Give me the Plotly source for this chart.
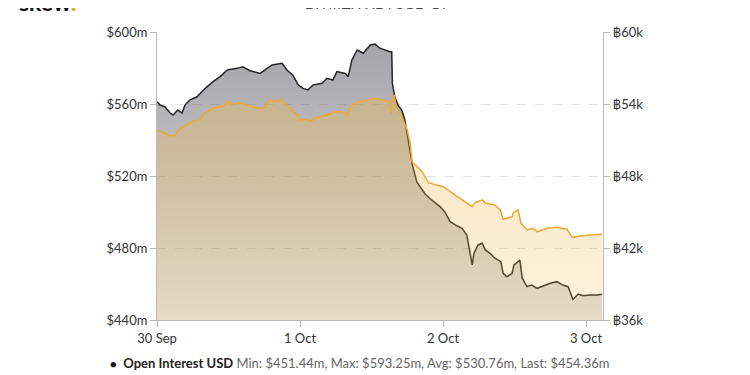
import pandas as pd
import plotly.graph_objects as go

# ---- data ----
# hours after 30 Sep 2020 00:00
oi_usd_hours = [0, 0.5, 1.3, 2.2, 2.7, 3.5, 4.2, 4.7, 5.5, 6.7, 8.1, 9.4, 10.6, 11.8, 13.4, 14.4,
                15.6, 17.3, 19.3, 21.0, 21.8, 22.8, 23.7, 24.5, 25.3, 26.2, 27.7, 28.5, 29.5, 30.2,
                31.6, 32.1, 32.7, 33.6, 34.6, 35.8, 36.6, 37.4, 39.1, 39.4, 39.5, 39.9, 40.5, 41.1,
                41.6, 42.1, 42.8, 43.6, 44.2, 45.0, 45.8, 47.5, 48.3, 49.2, 50.4, 51.2, 52.0, 52.4,
                52.9, 53.2, 53.9, 54.6, 55.1, 55.9, 56.7, 57.7, 58.1, 58.7, 59.6, 59.9, 60.6, 60.9,
                61.3, 62.1, 62.9, 63.8, 64.8, 66.0, 67.1, 68.1, 69.0, 69.8, 70.7, 71.5, 72.7, 73.9, 74.7]
oi_usd_values = [561.3, 559.4, 558.5, 555.0, 553.9, 556.7, 555.0, 559.4, 562.2, 564.0, 568.7, 572.4,
                 575.2, 578.9, 579.8, 580.7, 578.5, 577.0, 581.7, 582.6, 578.9, 576.0, 570.6, 568.7,
                 567.8, 570.6, 571.5, 574.3, 573.3, 578.0, 577.0, 575.2, 584.4, 590.0, 588.2, 592.8,
                 593.25, 591.0, 589.0, 589.0, 571.6, 564.0, 559.0, 556.5, 551.0, 540.0, 527.0, 516.7,
                 514.0, 510.0, 507.5, 503.0, 500.0, 494.6, 492.2, 490.9, 487.2, 480.7, 470.6, 477.2,
                 481.7, 482.6, 478.9, 477.0, 474.3, 472.4, 465.9, 464.0, 465.9, 470.6, 472.4, 473.3,
                 463.2, 458.5, 459.4, 457.6, 458.9, 460.4, 461.3, 459.4, 458.5, 451.44, 454.4, 453.5,
                 453.9, 453.9, 454.36]

oi_btc_hours = [0, 0.8, 2.2, 3.0, 3.9, 5.0, 5.9, 7.2, 8.1, 9.4, 11.1, 11.8, 12.6, 13.9, 15.1, 16.1,
                17.3, 18.1, 19.0, 19.8, 20.6, 21.5, 22.3, 23.5, 24.0, 25.2, 25.7, 27.0, 28.5, 29.9,
                31.1, 31.9, 32.7, 33.7, 35.2, 36.3, 37.8, 38.8, 39.3, 39.4, 39.8, 40.1, 41.1, 42.0,
                42.5, 42.8, 43.6, 44.5, 45.5, 47.0, 48.0, 49.2, 50.9, 52.2, 52.9, 53.4, 54.6, 55.1,
                56.7, 57.6, 58.1, 59.6, 59.8, 60.6, 61.1, 62.1, 63.1, 63.8, 65.5, 67.1, 68.8, 69.7,
                71.0, 72.7, 74.7]
oi_btc_values = [51.78, 51.7, 51.33, 51.42, 51.97, 52.25, 52.53, 52.72, 53.28, 53.64, 53.83, 54.19,
                 54.0, 54.11, 53.92, 53.72, 53.58, 53.78, 54.33, 54.19, 54.39, 54.06, 53.64, 53.08,
                 52.67, 52.72, 52.53, 52.89, 53.08, 53.36, 53.36, 53.08, 53.92, 54.19, 54.33, 54.47,
                 54.33, 54.19, 53.22, 54.19, 54.75, 53.92, 52.94, 51.83, 50.72, 49.19, 48.78, 48.36,
                 47.44, 47.25, 47.11, 46.69, 46.14, 45.72, 45.44, 45.78, 46.0, 45.72, 45.58, 45.17,
                 44.39, 44.61, 44.94, 45.17, 44.06, 43.5, 43.64, 43.36, 43.64, 43.72, 43.56, 42.89,
                 43.0, 43.08, 43.14]

usd_ticks = [440, 480, 520, 560, 600]
usd_tick_labels = ["$440m", "$480m", "$520m", "$560m", "$600m"]
btc_ticks = [36, 42, 48, 54, 60]
btc_tick_labels = ["฿36k", "฿42k", "฿48k", "฿54k", "฿60k"]
legend_usd = "<b>Open Interest USD</b> <span style='color:#666666'>Min: $451.44m, Max: $593.25m, Avg: $530.76m, Last: $454.36m</span>"
legend_btc = "<b>Open Interest BTC</b> <span style='color:#666666'>Min: ฿42.89k, Max: ฿54.75k, Avg: ฿49.81k, Last: ฿43.14k</span>"
chart_title = "BITMEX XBTUSD OI"

start = pd.Timestamp("2020-09-30 00:00")
x_usd = [start + pd.Timedelta(hours=h) for h in oi_usd_hours]
x_btc = [start + pd.Timedelta(hours=h) for h in oi_btc_hours]
x_end = start + pd.Timedelta(hours=74.85)

FONT = "Lato, 'Open Sans', sans-serif"
AX = "#b8b8b8"

fig = go.Figure()
fig.add_trace(go.Scatter(
    x=x_usd, y=oi_usd_values, mode="lines", name="Open Interest USD",
    line=dict(color="#262626", width=1.5),
    fill="tozeroy",
    fillgradient=dict(type="vertical", start=440, stop=600,
                      colorscale=[[0, "rgba(100,100,108,0.18)"], [1, "rgba(100,100,108,0.60)"]]),
    showlegend=False,
))
fig.add_trace(go.Scatter(
    x=x_btc, y=oi_btc_values, mode="lines", name="Open Interest BTC", yaxis="y2",
    line=dict(color="#f0a830", width=1.5),
    fill="tozeroy",
    fillgradient=dict(type="vertical", start=36, stop=60,
                      colorscale=[[0, "rgba(240,183,73,0.19)"], [1, "rgba(240,183,73,0.40)"]]),
    showlegend=False,
))

# the page is shown with an 8px body margin, so margins are shifted accordingly
fig.update_layout(
    width=750, height=375,
    margin=dict(l=149, r=155, t=24, b=63),
    paper_bgcolor="white", plot_bgcolor="white",
    font=dict(family=FONT, size=13, color="#333333"),
    showlegend=False,
    xaxis=dict(
        range=[start, x_end], type="date",
        tickformat="%-d %b", dtick=86400000, tick0=start,
        showgrid=False, showline=True, linecolor=AX, linewidth=1,
        ticks="outside", ticklen=6, tickcolor=AX,
        tickfont=dict(size=13, color="#333333"),
        zeroline=False,
    ),
    yaxis=dict(
        range=[440, 600], tickmode="array", tickvals=usd_ticks, ticktext=usd_tick_labels,
        showgrid=True, gridcolor="#e3e3e3", griddash="dash", gridwidth=1,
        showline=True, linecolor=AX, linewidth=1,
        ticks="outside", ticklen=6, tickcolor=AX,
        zeroline=False, tickfont=dict(size=13, color="#333333"),
    ),
    yaxis2=dict(
        range=[36, 60], tickmode="array", tickvals=btc_ticks, ticktext=btc_tick_labels,
        overlaying="y", side="right", showgrid=False,
        showline=True, linecolor=AX, linewidth=1,
        ticks="outside", ticklen=6, tickcolor=AX,
        zeroline=False, tickfont=dict(size=13, color="#333333"),
    ),
    annotations=[
        dict(text="<b>skew</b><span style='color:#f7a600'><b>.</b></span>",
             xref="paper", yref="paper", x=(17 - 157) / 446, y=(320 - 18) / 288,
             xanchor="left", yanchor="bottom", showarrow=False,
             font=dict(family=FONT, size=23, color="#111111")),
        dict(text=chart_title, xref="paper", yref="paper", x=(375 - 157) / 446,
             y=(320 - 14) / 288, xanchor="center", yanchor="bottom", showarrow=False,
             font=dict(family="Liberation Sans, Arial, sans-serif", size=15, color="#444444")),
        dict(text="<span style='color:#111111;font-size:11px'>●</span>  " + legend_usd,
             xref="paper", yref="paper", x=(108 - 157) / 446, y=(320 - 363) / 288,
             xanchor="left", yanchor="middle", showarrow=False,
             font=dict(family=FONT, size=13, color="#222222")),
        dict(text="<span style='color:#f0a830;font-size:11px'>●</span>  " + legend_btc,
             xref="paper", yref="paper", x=(120 - 157) / 446, y=(320 - 382) / 288,
             xanchor="left", yanchor="middle", showarrow=False,
             font=dict(family=FONT, size=13, color="#222222")),
    ],
)

fig.write_html("out.html")
